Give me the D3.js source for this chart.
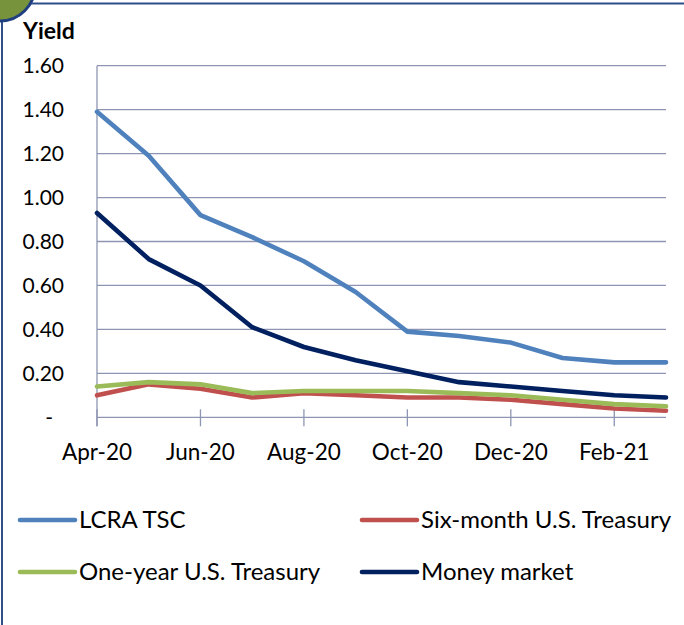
<!DOCTYPE html>
<html>
<head>
<meta charset="utf-8">
<script src="https://cdn.jsdelivr.net/npm/d3@7"></script>
<style>
	body { margin: 0; background: #fff; }
	text { font-family: Lato, "Open Sans", sans-serif; fill: #000; }
	.gridLine { stroke: #8e95b2; stroke-width: 1.3; }
	.axisLabel { font-size: 21px; }
	.xLabel { font-size: 22.5px; }
	.legendText { font-size: 24px; }
	.yTitle { font-size: 23px; font-weight: bold; }
	.seriesLine { fill: none; stroke-width: 4.6; stroke-linejoin: round; stroke-linecap: round; }
</style>
</head>
<body>
<div id="chart"></div>
<script>

//Data
var months = ["Apr-20","May-20","Jun-20","Jul-20","Aug-20","Sep-20","Oct-20","Nov-20","Dec-20","Jan-21","Feb-21","Mar-21"];
var tickMonths = ["Apr-20","Jun-20","Aug-20","Oct-20","Dec-20","Feb-21"];
var yTicks = [0, 0.2, 0.4, 0.6, 0.8, 1.0, 1.2, 1.4, 1.6];

var lcraTsc      = [1.39, 1.19, 0.92, 0.82, 0.71, 0.57, 0.39, 0.37, 0.34, 0.27, 0.25, 0.25];
var sixMonth     = [0.10, 0.15, 0.13, 0.09, 0.11, 0.10, 0.09, 0.09, 0.08, 0.06, 0.04, 0.03];
var oneYear      = [0.14, 0.16, 0.15, 0.11, 0.12, 0.12, 0.12, 0.11, 0.10, 0.08, 0.06, 0.05];
var moneyMarket  = [0.93, 0.72, 0.60, 0.41, 0.32, 0.26, 0.21, 0.16, 0.14, 0.12, 0.10, 0.09];

var seriesNames  = ["LCRA TSC", "Six-month U.S. Treasury", "One-year U.S. Treasury", "Money market"];
var seriesColors = ["#4f81bd", "#c0504d", "#9bbb59", "#002060"];
var seriesValues = [lcraTsc, sixMonth, oneYear, moneyMarket];

var width = 684,
	height = 625;

var svg = d3.select("#chart")
	.append("svg")
	.attr("width", width)
	.attr("height", height);

//Plot area
var plot = { left: 97, right: 666, top: 65.7, bottom: 417.3 };

var xScale = d3.scalePoint()
	.domain(months)
	.range([plot.left, plot.right]);

var yScale = d3.scaleLinear()
	.domain([0, 1.6])
	.range([plot.bottom, plot.top]);

///////////////////////////////////////////////////////////////////////////
/////////////////////////////// Frame /////////////////////////////////////
///////////////////////////////////////////////////////////////////////////

svg.append("line")
	.attr("x1", 20).attr("y1", 3.5)
	.attr("x2", width).attr("y2", 3.5)
	.style("stroke", "#2f4f8a")
	.style("stroke-width", 2);
svg.append("line")
	.attr("x1", 2).attr("y1", 10)
	.attr("x2", 2).attr("y2", height)
	.style("stroke", "#2f4f8a")
	.style("stroke-width", 2);
svg.append("circle")
	.attr("cx", 0)
	.attr("cy", -14)
	.attr("r", 35)
	.style("fill", "#77933c")
	.style("stroke", "#1f3f80")
	.style("stroke-width", 3);

///////////////////////////////////////////////////////////////////////////
//////////////////////////////// Axes /////////////////////////////////////
///////////////////////////////////////////////////////////////////////////

//Horizontal gridlines
svg.selectAll(".gridLine")
	.data(yTicks)
	.enter().append("line")
	.attr("class", "gridLine")
	.attr("x1", plot.left)
	.attr("x2", plot.right)
	.attr("y1", function(d) { return yScale(d); })
	.attr("y2", function(d) { return yScale(d); });

//Vertical axis line
svg.append("line")
	.attr("class", "gridLine")
	.attr("x1", plot.left).attr("x2", plot.left)
	.attr("y1", plot.top).attr("y2", plot.bottom + 9);

//Cross tick marks on the category axis
svg.selectAll(".xTick")
	.data(tickMonths)
	.enter().append("line")
	.attr("class", "gridLine")
	.attr("x1", function(d) { return xScale(d); })
	.attr("x2", function(d) { return xScale(d); })
	.attr("y1", plot.bottom - 8)
	.attr("y2", plot.bottom + 9);

//Y labels
svg.selectAll(".yLabel")
	.data(yTicks)
	.enter().append("text")
	.attr("class", "axisLabel")
	.attr("x", function(d) { return d === 0 ? 53 : 64; })
	.attr("y", function(d) { return yScale(d); })
	.attr("dy", "0.36em")
	.style("text-anchor", "end")
	.text(function(d) { return d === 0 ? "-" : d3.format(".2f")(d); });

svg.append("text")
	.attr("class", "yTitle")
	.attr("x", 23)
	.attr("y", 39)
	.text("Yield");

//X labels
svg.selectAll(".xLabel")
	.data(tickMonths)
	.enter().append("text")
	.attr("class", "xLabel")
	.attr("x", function(d) { return xScale(d); })
	.attr("y", 460)
	.style("text-anchor", "middle")
	.text(function(d) { return d; });

///////////////////////////////////////////////////////////////////////////
/////////////////////////////// Lines /////////////////////////////////////
///////////////////////////////////////////////////////////////////////////

var line = d3.line()
	.x(function(d, i) { return xScale(months[i]); })
	.y(function(d) { return yScale(d); });

//Draw order: treasuries first, then money market and LCRA on top
var drawOrder = [1, 2, 3, 0];
svg.selectAll(".seriesLine")
	.data(drawOrder)
	.enter().append("path")
	.attr("class", "seriesLine")
	.attr("d", function(k) { return line(seriesValues[k]); })
	.style("stroke", function(k) { return seriesColors[k]; });

///////////////////////////////////////////////////////////////////////////
/////////////////////////////// Legend ////////////////////////////////////
///////////////////////////////////////////////////////////////////////////

var legendPos = [[20, 520], [362, 520], [20, 572], [362, 572]];

var legend = svg.selectAll(".legendItem")
	.data(seriesNames)
	.enter().append("g")
	.attr("class", "legendItem")
	.attr("transform", function(d, i) { return "translate(" + legendPos[i][0] + "," + legendPos[i][1] + ")"; });

legend.append("line")
	.attr("x1", 0).attr("x2", 55)
	.attr("y1", 0).attr("y2", 0)
	.style("stroke", function(d, i) { return seriesColors[i]; })
	.style("stroke-width", 4.6)
	.style("stroke-linecap", "round");

legend.append("text")
	.attr("class", "legendText")
	.attr("x", 59)
	.attr("y", 0)
	.attr("dy", "0.35em")
	.text(function(d) { return d; });

</script>
</body>
</html>
